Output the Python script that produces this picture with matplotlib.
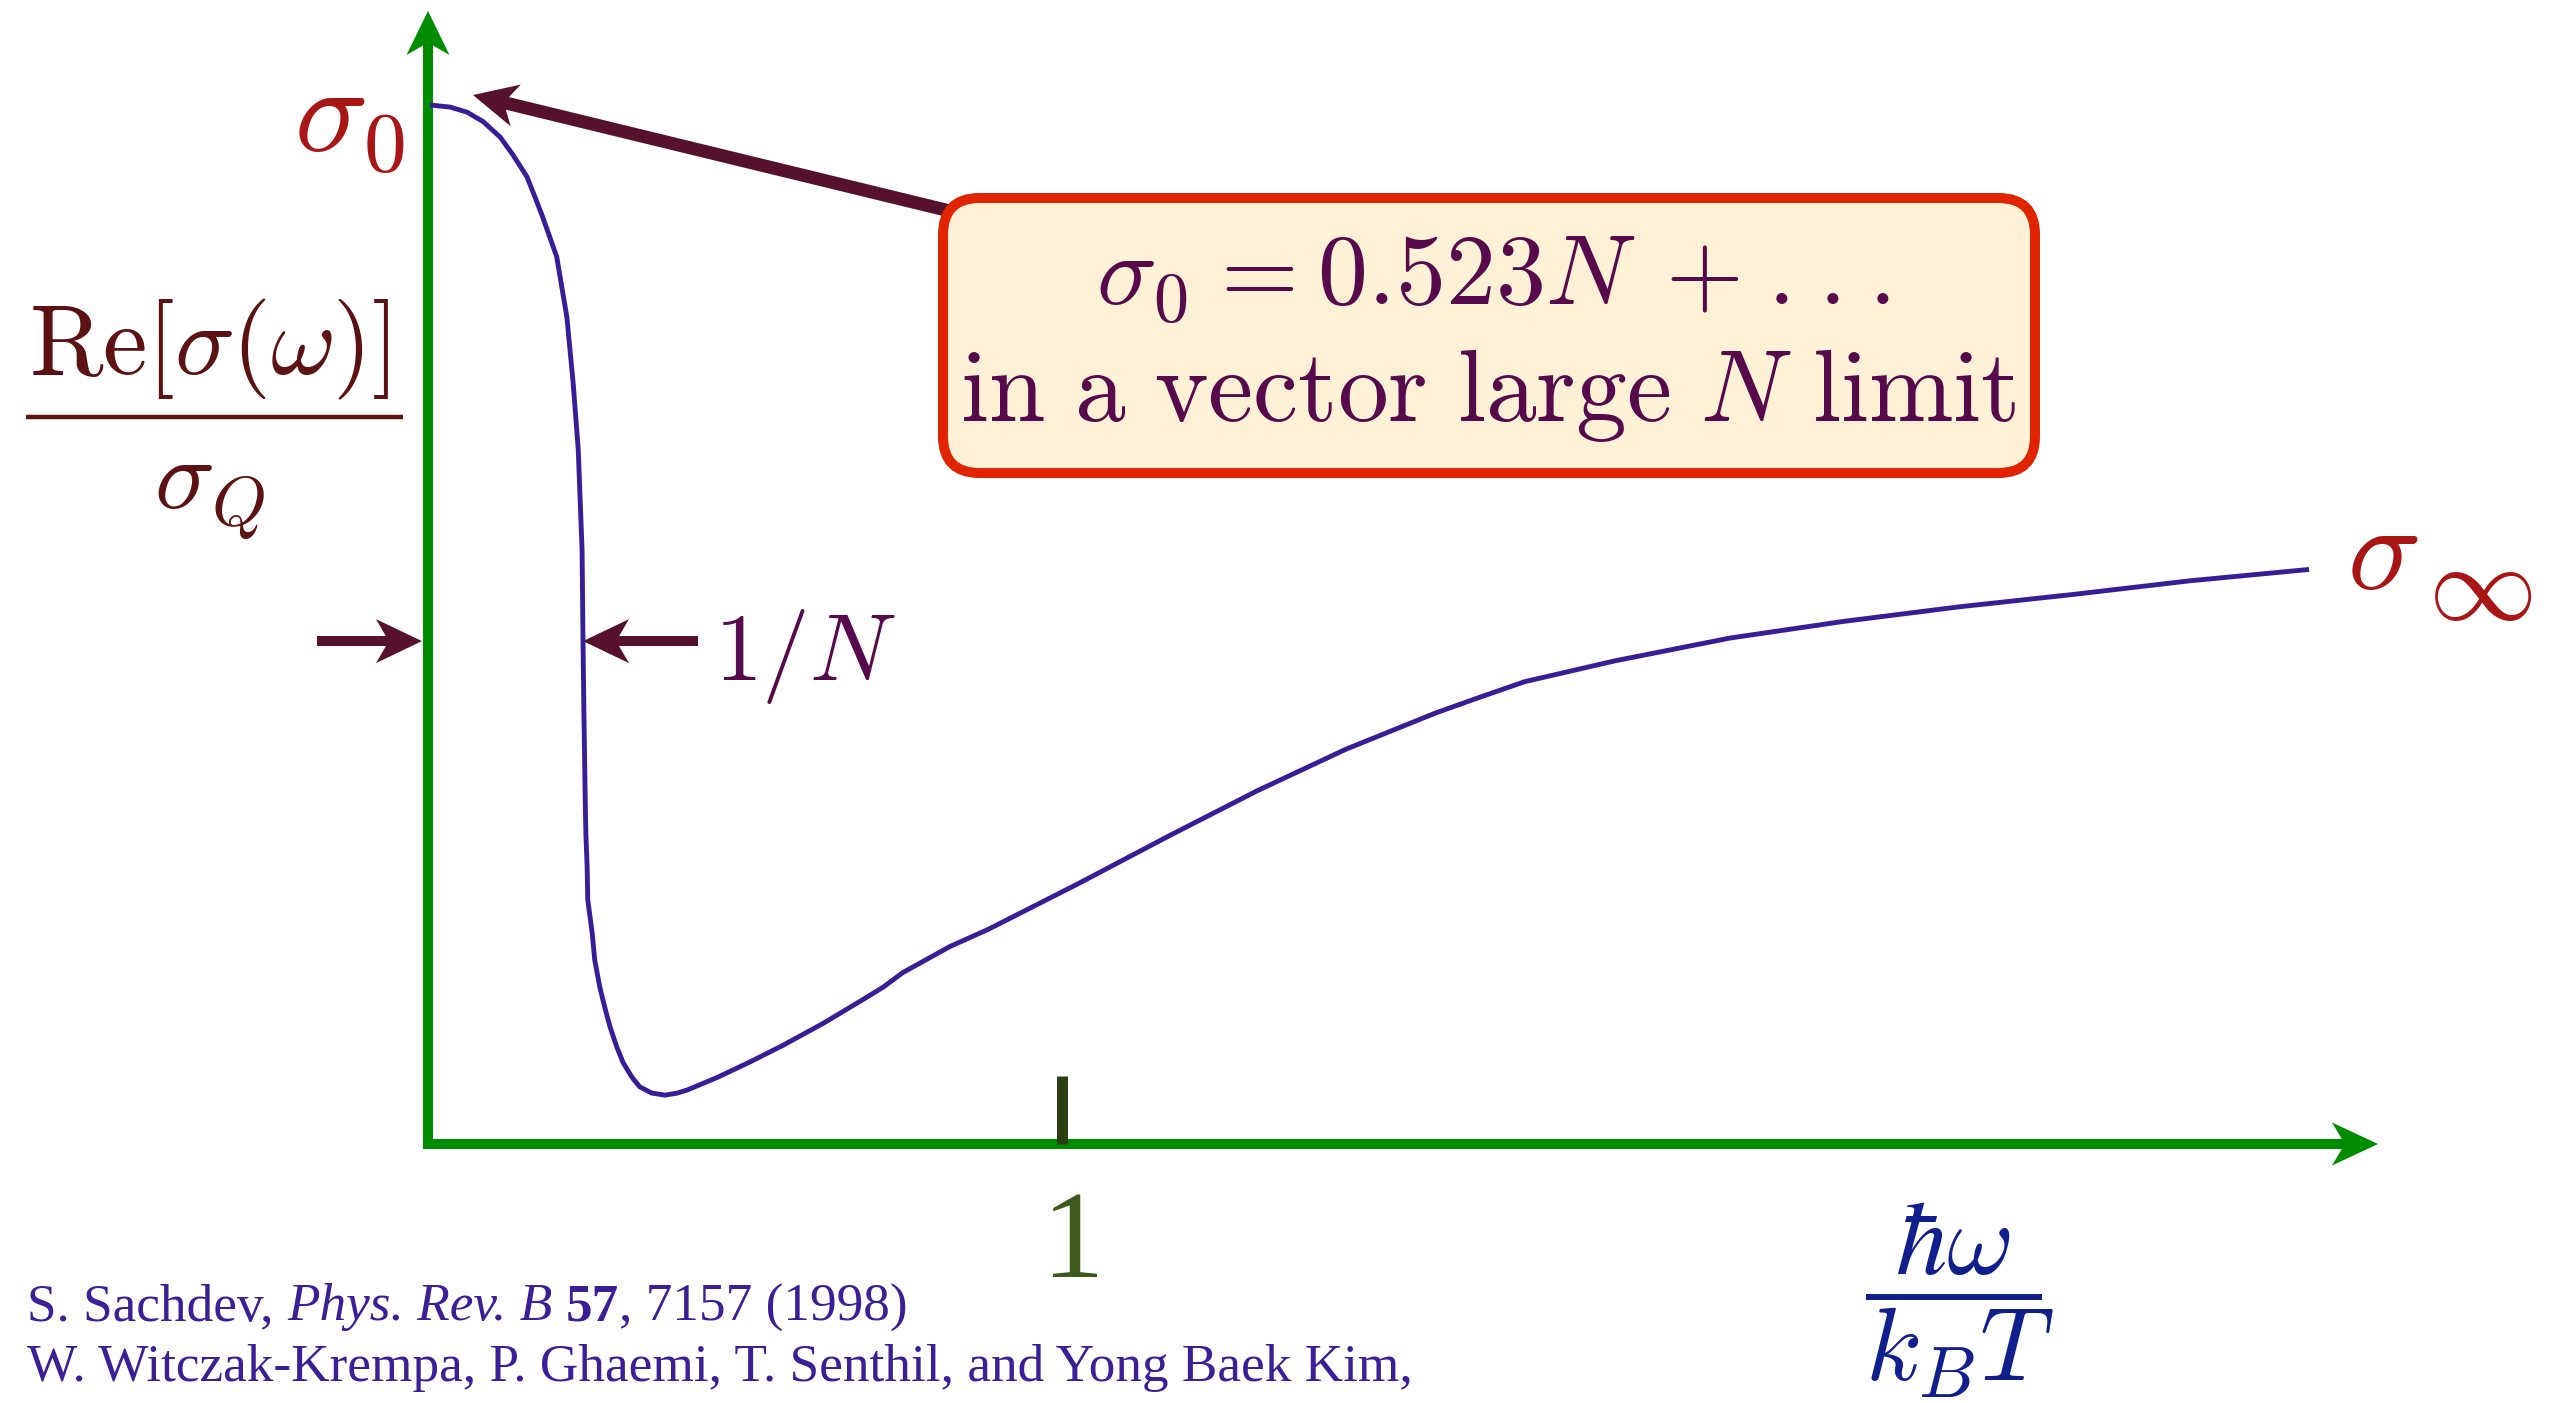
import numpy as np
import matplotlib
matplotlib.use("Agg")
import matplotlib.pyplot as plt
from matplotlib.patches import Polygon, FancyBboxPatch
from matplotlib.lines import Line2D
from matplotlib.transforms import IdentityTransform
from matplotlib.offsetbox import TextArea, HPacker, VPacker, AnchoredOffsetbox

plt.rcParams['mathtext.fontset'] = 'cm'

# Re[sigma(omega)]/sigma_Q vs hbar*omega/(k_B T), in units where sigma_0 = 1
w = [0.003, 0.035, 0.062, 0.087, 0.114, 0.134, 0.156, 0.169, 0.181, 0.192,
     0.203, 0.211, 0.219, 0.224, 0.229, 0.233, 0.237, 0.243, 0.2445, 0.246,
     0.248, 0.249, 0.251, 0.252, 0.259, 0.263, 0.271, 0.279, 0.287, 0.298,
     0.308, 0.322, 0.334, 0.353, 0.374, 0.393, 0.409, 0.456, 0.508, 0.560,
     0.623, 0.686, 0.718, 0.749, 0.823, 0.885, 1.027, 1.167, 1.308, 1.448,
     1.590, 1.659, 1.730, 1.872, 2.054, 2.233, 2.415, 2.596, 2.778, 2.967]
sigma = [1.000, 0.998, 0.993, 0.984, 0.969, 0.952, 0.931, 0.911, 0.892, 0.873,
         0.854, 0.825, 0.796, 0.764, 0.732, 0.700, 0.668, 0.572, 0.484, 0.411,
         0.331, 0.299, 0.267, 0.235, 0.203, 0.177, 0.151, 0.131, 0.113, 0.093,
         0.078, 0.064, 0.055, 0.049, 0.047, 0.049, 0.052, 0.064, 0.079, 0.095,
         0.116, 0.139, 0.151, 0.165, 0.190, 0.207, 0.251, 0.296, 0.340, 0.380,
         0.415, 0.430, 0.445, 0.465, 0.487, 0.503, 0.517, 0.529, 0.542, 0.553]

x_ticks = [1]
x_tick_labels = ['1']

# colours
AXIS = '#008c00'
CURVE = '#371d96'
ARROW = '#56112c'
RED = '#a81616'
PURPLE = '#560a4c'
BROWN = '#5c1212'

W, H = 2559, 1403
X0, XU = 428, 634     # origin column and pixels per unit in x
Y0, YU = 1144, 1039   # origin row (from top) and pixels per unit in y

fig = plt.figure(figsize=(W / 100, H / 100), dpi=100)
ax = fig.add_axes([0, 0, 1, 1])
ax.set_xlim(-X0 / XU, (W - X0) / XU)
ax.set_ylim(-(H - Y0) / YU, Y0 / YU)
ax.axis('off')


def stealth(tail, tip, color, shaft_px, head_len, head_w, z=3):
    # shaft plus a notched arrow head, built in pixel space
    p0 = ax.transData.transform(tail)
    p1 = ax.transData.transform(tip)
    d = p1 - p0
    u = d / np.hypot(*d)
    n = np.array([-u[1], u[0]])
    back = p1 - head_len * u
    notch = p1 - 0.72 * head_len * u
    head = [p1, back + n * head_w / 2, notch, back - n * head_w / 2]
    ax.add_patch(Polygon(head, closed=True, transform=IdentityTransform(),
                         fc=color, ec='none', zorder=z))
    ax.add_line(Line2D([p0[0], notch[0]], [p0[1], notch[1]],
                       transform=IdentityTransform(), color=color,
                       lw=shaft_px * 0.72, solid_capstyle='butt', zorder=z))


# axes with arrow heads
ax.plot([0, 0], [0, 1.05], color=AXIS, lw=7.2, solid_capstyle='projecting', zorder=2)
ax.plot([0, 3.03], [0, 0], color=AXIS, lw=7.2, solid_capstyle='projecting', zorder=2)
stealth((0, 0.9), (0, 1.0905), AXIS, 10, 44, 43, z=2)
stealth((2.8, 0), (3.0757, 0), AXIS, 10, 46, 43, z=2)

# tick at hbar*omega = k_B T
for t, lab in zip(x_ticks, x_tick_labels):
    ax.plot([t, t], [0, 0.0654], color='#2b3e12', lw=7.9, solid_capstyle='butt', zorder=3)
    ax.text(t + 0.017, -0.128, lab, ha='center', va='baseline', fontsize=90,
            family='Liberation Serif', color='#3b5a1c')

# conductivity curve
ax.plot(w, sigma, color=CURVE, lw=3.5, solid_joinstyle='round',
        solid_capstyle='butt', zorder=4)

# end labels
ax.text(-0.036, 0.9875, r'$\sigma_0$', ha='right', va='center', fontsize=88, color=RED)
ax.text(3.027, 0.566, r'$\sigma$', ha='left', va='center', fontsize=88, color=RED)
ax.text(3.155, 0.533, r'$\infty$', ha='left', va='center', fontsize=78, color=RED)

# y label as a stacked fraction
ax.text(-0.345, 0.741, r'$\mathrm{Re}[\sigma(\omega)]$', ha='center', va='baseline',
        fontsize=72, color=BROWN)
ax.plot([-0.634, -0.039], [0.6997, 0.6997], color=BROWN, lw=3.2, solid_capstyle='butt')
ax.text(-0.345, 0.611, r'$\sigma_Q$', ha='center', va='baseline', fontsize=72, color=BROWN)

# x label
ax.text(2.416, -0.150, r'$\dfrac{\hbar\omega}{k_BT}$',
        ha='center', va='center', fontsize=74, color='#101f8c')

# 1/N width markers
i_mark = sigma.index(0.484)
y_mark = sigma[i_mark]
stealth((-0.175, y_mark), (-0.0095, y_mark), ARROW, 10, 46, 44)
stealth((0.4259, y_mark), (w[i_mark], y_mark), ARROW, 10, 46, 44)
ax.text(0.451, 0.4466, r'$1/N$', ha='left', va='baseline', fontsize=69, color=PURPLE)

# callout box for sigma_0
stealth((0.85, 0.894), (0.071, 1.0096), ARROW, 13, 44, 43, z=3)
box = FancyBboxPatch((0.8123, 0.6458), 2.5347 - 0.8123, 0.9105 - 0.6458,
                     boxstyle='round,pad=0,rounding_size=0.058',
                     mutation_aspect=XU / YU, fc='#fff1d6', ec='#e02400',
                     lw=7.2, zorder=5)
ax.add_patch(box)
ax.text(1.68, 0.8075,
        r'$\sigma_0\hspace{0.10}=\hspace{0.02}0.523N\hspace{0.25}+'
        r'\hspace{0.08}.\hspace{0.06}.\hspace{0.06}.$',
        ha='center', va='baseline', fontsize=72, color=PURPLE, zorder=6)
ax.text(1.673, 0.6959, r'$\mathrm{in\ a\ vector\ large}\ N\ \mathrm{limit}$',
        ha='center', va='baseline', fontsize=73, color=PURPLE, zorder=6)

# references
CITE = '#3b1f97'
base = dict(color=CITE, family='Liberation Serif', fontsize=38.3)
line1 = HPacker(children=[
    TextArea('S. Sachdev, ', textprops=base),
    TextArea('Phys. Rev. B ', textprops=dict(base, style='italic')),
    TextArea('57', textprops=dict(base, weight='bold')),
    TextArea(', 7157 (1998)', textprops=base),
], align='baseline', pad=0, sep=0)
line2 = TextArea('W. Witczak-Krempa, P. Ghaemi, T. Senthil, and Yong Baek Kim,',
                 textprops=base)
refs = VPacker(children=[line1, line2], align='left', pad=0, sep=9)
anchored = AnchoredOffsetbox(loc='lower left', child=refs, pad=0, borderpad=0,
                             frameon=False, bbox_to_anchor=(27 / W, 11 / H),
                             bbox_transform=fig.transFigure)
ax.add_artist(anchored)

fig.savefig('out.png', dpi=100)
